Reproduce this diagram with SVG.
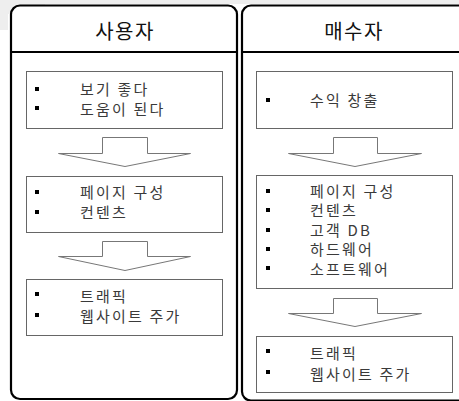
<svg xmlns="http://www.w3.org/2000/svg" width="459" height="401" viewBox="0 0 459 401">
<style>
.panel{fill:#fff;stroke:#000;stroke-width:2.2}
.hdr{stroke:#000;stroke-width:2}
.box{fill:#fff;stroke:#666;stroke-width:1}
.arrow{fill:#fff;stroke:#777;stroke-width:1}
.title{font-family:"Noto Sans CJK KR","Liberation Sans",sans-serif;font-size:20px;fill:#111;text-anchor:middle;letter-spacing:1.5px}
.t{font-family:"Noto Sans CJK KR","Liberation Sans",sans-serif;font-size:15px;fill:#3a3a3a;letter-spacing:2.2px}
.b{fill:#000}
</style>
<rect x="0" y="0" width="459" height="401" fill="#fff"/>
<path d="M0 0 H459 V4 H45 V14 H8 V30 H0 Z" fill="#eeeeee"/>
<g id="panel-user">
<rect class="panel" x="11" y="5.5" width="226" height="393.5" rx="9"/>
<line class="hdr" x1="11" y1="52" x2="237" y2="52"/>
<text class="title" x="125" y="39">사용자</text>
</g>
<g id="panel-buyer">
<rect class="panel" x="242" y="5.5" width="240" height="395" rx="9"/>
<line class="hdr" x1="242" y1="52" x2="459" y2="52"/>
<text class="title" x="354" y="39">매수자</text>
</g>
<g id="u1">
<rect class="box" x="26.5" y="71.5" width="196" height="57"/>
<rect class="b" x="35" y="87" width="4" height="4"/>
<rect class="b" x="35" y="106" width="4" height="4"/>
<text class="t" x="80" y="94.5">보기 좋다</text>
<text class="t" x="80" y="114.5">도움이 된다</text>
</g>
<g id="u2">
<rect class="box" x="26.5" y="176.5" width="196" height="56"/>
<rect class="b" x="35" y="190" width="4" height="4"/>
<rect class="b" x="35" y="210" width="4" height="4"/>
<text class="t" x="80" y="198">페이지 구성</text>
<text class="t" x="80" y="218">컨텐츠</text>
</g>
<g id="u3">
<rect class="box" x="26.5" y="279.5" width="196" height="56"/>
<rect class="b" x="35" y="292" width="4" height="4"/>
<rect class="b" x="35" y="313" width="4" height="4"/>
<text class="t" x="80" y="301.5">트래픽</text>
<text class="t" x="80" y="321.5">웹사이트 주가</text>
</g>
<g id="b1">
<rect class="box" x="256.5" y="71.5" width="196" height="57"/>
<rect class="b" x="266" y="98" width="4" height="4"/>
<text class="t" x="310" y="106">수익 창출</text>
</g>
<g id="b2">
<rect class="box" x="256.5" y="175.5" width="196" height="113"/>
<rect class="b" x="266" y="189" width="4" height="4"/>
<rect class="b" x="266" y="208" width="4" height="4"/>
<rect class="b" x="266" y="228" width="4" height="4"/>
<rect class="b" x="266" y="247" width="4" height="4"/>
<rect class="b" x="266" y="266" width="4" height="4"/>
<text class="t" x="310" y="196.5">페이지 구성</text>
<text class="t" x="310" y="216">컨텐츠</text>
<text class="t" x="310" y="235.5">고객 DB</text>
<text class="t" x="310" y="255">하드웨어</text>
<text class="t" x="310" y="274.5">소프트웨어</text>
</g>
<g id="b3">
<rect class="box" x="256.5" y="336.5" width="196" height="56"/>
<rect class="b" x="266" y="349" width="4" height="4"/>
<rect class="b" x="266" y="370" width="4" height="4"/>
<text class="t" x="310" y="359">트래픽</text>
<text class="t" x="310" y="380">웹사이트 주가</text>
</g>
<g id="connectors">
<polygon class="arrow" points="102.5,137.5 147.5,137.5 147.5,153.5 190.5,153.5 125,166.5 58.5,153.5 102.5,153.5"/>
<polygon class="arrow" points="102.5,241.5 147.5,241.5 147.5,256.5 190.5,256.5 125,270.5 58.5,256.5 102.5,256.5"/>
<polygon class="arrow" points="333.5,137.5 377.5,137.5 377.5,153.5 421.5,153.5 355,166.5 288.5,153.5 333.5,153.5"/>
<polygon class="arrow" points="333.5,298.5 377.5,298.5 377.5,313.5 421.5,313.5 355,326.5 288.5,313.5 333.5,313.5"/>
</g>
</svg>
